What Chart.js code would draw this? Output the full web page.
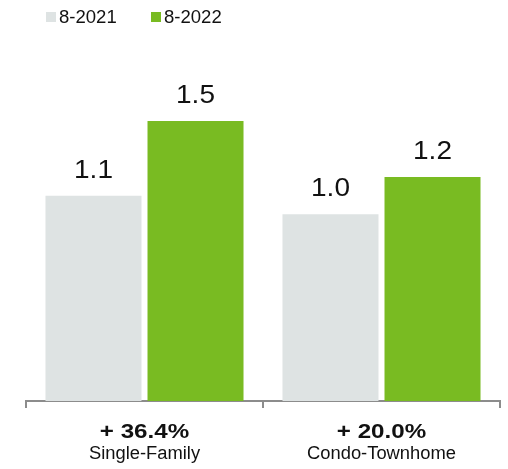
<!DOCTYPE html>
<html>
<head>
<meta charset="utf-8">
<script src="https://cdn.jsdelivr.net/npm/chart.js@4.4.1/dist/chart.umd.min.js"></script>
<style>
  html, body { margin: 0; padding: 0; background: #fff; }
  #wrap { position: relative; width: 508px; height: 469px; }
  #chart { position: absolute; left: 0; top: 0; }
  /* legend row above the bars */
  .legend { position: absolute; top: 7px; left: 46px; font: 18px "Liberation Sans", Arial, sans-serif; color: #111; }
  .legend span { position: absolute; white-space: nowrap; line-height: 20px; transform: scaleX(1.03); transform-origin: left center; }
  .legend i { position: absolute; top: 5px; width: 10px; height: 10px; }
</style>
</head>
<body>
<div id="wrap">
  <canvas id="chart" width="508" height="469"></canvas>
  <div class="legend" id="legend"></div>
</div>
<script>
// ── data ──────────────────────────────────────────
const categories   = ['Single-Family', 'Condo-Townhome'];
const changeLabels = ['+ 36.4%', '+ 20.0%'];
const seriesNames  = ['8-2021', '8-2022'];
const values2021   = [1.1, 1.0];
const values2022   = [1.5, 1.2];
const seriesColors = ['#dee3e3', '#79bb22'];

const FONT = '"Liberation Sans", Arial, sans-serif';

// ── legend (html) ─────────────────────────────────
const legendEl = document.getElementById('legend');
const legendOffsets = [0, 105];
seriesNames.forEach(function(name, i) {
  const box = document.createElement('i');
  box.style.left = legendOffsets[i] + 'px';
  box.style.background = seriesColors[i];
  const txt = document.createElement('span');
  txt.style.left = (legendOffsets[i] + 13) + 'px';
  txt.textContent = name;
  legendEl.appendChild(box);
  legendEl.appendChild(txt);
});

// draw text a bit wider than the font's natural width
function wideText(ctx, text, x, y, sx) {
  ctx.save();
  ctx.translate(x, y);
  ctx.scale(sx, 1);
  ctx.fillText(text, 0, 0);
  ctx.restore();
}

// ── value labels over each bar ────────────────────
const barValuesPlugin = {
  id: 'barValues',
  afterDatasetsDraw(chart) {
    const ctx = chart.ctx;
    ctx.save();
    ctx.font = '25px ' + FONT;
    ctx.fillStyle = '#111';
    ctx.textAlign = 'center';
    ctx.textBaseline = 'alphabetic';
    chart.data.datasets.forEach(function(ds, di) {
      chart.getDatasetMeta(di).data.forEach(function(bar, i) {
        wideText(ctx, ds.data[i].toFixed(1), bar.x, bar.y - 18, 1.12);
      });
    });
    ctx.restore();
  }
};

// ── two-line category labels (bold change + name) ─
const categoryLabelsPlugin = {
  id: 'categoryLabels',
  afterDraw(chart) {
    const ctx = chart.ctx;
    const xs = chart.scales.x;
    const top = xs.top;
    ctx.save();
    ctx.textAlign = 'center';
    ctx.textBaseline = 'alphabetic';
    ctx.fillStyle = '#111';
    categories.forEach(function(cat, i) {
      const x = xs.getPixelForValue(i);
      ctx.font = 'bold 21px ' + FONT;
      wideText(ctx, changeLabels[i], x, top + 37, 1.15);
      ctx.font = '18px ' + FONT;
      wideText(ctx, cat, x, top + 58, 1.02);
    });
    ctx.restore();
  }
};

// ── chart ─────────────────────────────────────────
new Chart(document.getElementById('chart').getContext('2d'), {
  type: 'bar',
  data: {
    labels: categories,
    datasets: [
      { label: seriesNames[0], data: values2021, backgroundColor: seriesColors[0] },
      { label: seriesNames[1], data: values2022, backgroundColor: seriesColors[1] }
    ]
  },
  options: {
    responsive: false,
    animation: false,
    layout: { padding: { left: 26, right: 8, top: 65, bottom: 61 } },
    datasets: { bar: { categoryPercentage: 0.861, barPercentage: 0.941 } },
    plugins: {
      legend: { display: false },
      tooltip: { enabled: false }
    },
    scales: {
      x: {
        offset: true,
        grid: {
          offset: true,
          drawOnChartArea: false,
          drawTicks: true,
          tickLength: 7,
          color: '#8c8c8c',
          lineWidth: 2
        },
        border: { display: true, color: '#8c8c8c', width: 2 },
        ticks: { display: false }
      },
      y: {
        display: false,
        min: 0,
        max: 1.8
      }
    }
  },
  plugins: [barValuesPlugin, categoryLabelsPlugin]
});
</script>
</body>
</html>
